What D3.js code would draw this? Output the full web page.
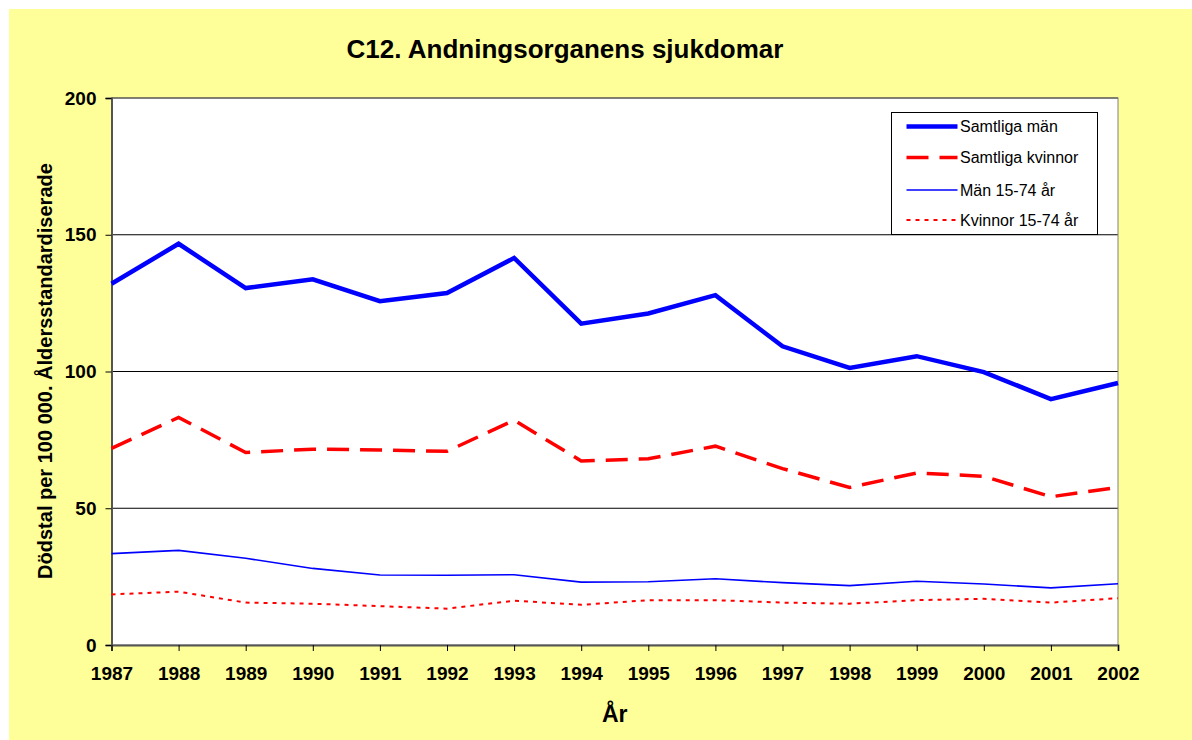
<!DOCTYPE html>
<html>
<head>
<meta charset="utf-8">
<script src="https://cdn.jsdelivr.net/npm/d3@7"></script>
<style>
  body { margin: 0; background: #fff; }
  text { font-family: "Liberation Sans", Arial, sans-serif; }
</style>
</head>
<body>
<script>
// data
var years = [1987, 1988, 1989, 1990, 1991, 1992, 1993, 1994, 1995, 1996, 1997, 1998, 1999, 2000, 2001, 2002];
var samtligaMan = [132.1, 146.7, 130.5, 133.7, 125.7, 128.7, 141.5, 117.5, 121.2, 127.9, 109.2, 101.3, 105.6, 99.8, 89.9, 95.8];
var samtligaKvinnor = [71.9, 83.2, 70.4, 71.6, 71.3, 70.8, 82.2, 67.3, 68.1, 72.7, 64.5, 57.6, 62.9, 61.7, 54.2, 57.6];
var man1574 = [33.4, 34.6, 31.7, 28.0, 25.6, 25.5, 25.7, 23.0, 23.1, 24.2, 22.8, 21.7, 23.3, 22.3, 20.9, 22.4];
var kvinnor1574 = [18.5, 19.5, 15.5, 15.1, 14.2, 13.3, 16.2, 14.7, 16.4, 16.4, 15.5, 15.1, 16.4, 16.9, 15.5, 17.1];
var yTicks = [0, 50, 100, 150, 200];

var series = [
  {name: "Samtliga män", values: samtligaMan, color: "#0000ff", width: 4.5, dash: null},
  {name: "Samtliga kvinnor", values: samtligaKvinnor, color: "#ff0000", width: 3.5, dash: "22,11"},
  {name: "Män 15-74 år", values: man1574, color: "#0000ff", width: 1.6, dash: null},
  {name: "Kvinnor 15-74 år", values: kvinnor1574, color: "#ff0000", width: 2, dash: "4,5"}
];

// define margins
var margin = {top: 98, right: 74, bottom: 95, left: 111.5};
var W = 1192, H = 740;
var width = 1118 - margin.left,
    height = 645 - margin.top;

var root = d3.select("body").append("svg")
    .attr("width", W)
    .attr("height", H);

// yellow chart area
root.append("rect")
    .attr("x", 9).attr("y", 9)
    .attr("width", W - 9).attr("height", H - 9)
    .attr("fill", "#ffff99");

root.append("text")
    .attr("x", 565)
    .attr("y", 58)
    .attr("text-anchor", "middle")
    .style("font-size", "26px")
    .style("font-weight", "bold")
    .text("C12. Andningsorganens sjukdomar");

var svg = root.append("g")
    .attr("transform", "translate(" + margin.left + "," + margin.top + ")");

var x = d3.scaleLinear().domain([years[0], years[years.length - 1]]).range([0, width]);
var y = d3.scaleLinear().domain([0, 200]).range([height, 0]);

// plot area
svg.append("rect")
    .attr("width", width)
    .attr("height", height)
    .attr("fill", "#ffffff");

// gridlines
svg.selectAll(".grid")
    .data(yTicks.filter(function(d) { return d > 0; }))
    .enter().append("line")
    .attr("x1", 0).attr("x2", width)
    .attr("y1", function(d) { return y(d); })
    .attr("y2", function(d) { return y(d); })
    .attr("stroke", "#000")
    .attr("stroke-width", 1);

// border of plot area
svg.append("rect")
    .attr("width", width)
    .attr("height", height)
    .attr("fill", "none")
    .attr("stroke", "#808080")
    .attr("stroke-width", 1);

// y axis
var yAxis = svg.append("g")
    .call(d3.axisLeft(y).tickValues(yTicks).tickSize(6).tickPadding(9).tickFormat(d3.format("d")));
yAxis.select(".domain").attr("stroke", "#555").attr("stroke-width", 2);
yAxis.selectAll(".tick line").attr("stroke", "#000");
yAxis.selectAll("text")
    .style("font-size", "19px")
    .style("font-weight", "bold")
    .style("font-family", "Liberation Sans, Arial, sans-serif")
    .attr("fill", "#000");

// x axis
var xAxis = svg.append("g")
    .attr("transform", "translate(0," + height + ")")
    .call(d3.axisBottom(x).tickValues(years).tickSize(6).tickPadding(16).tickFormat(d3.format("d")));
xAxis.select(".domain").attr("stroke", "#555").attr("stroke-width", 2);
xAxis.selectAll(".tick line").attr("stroke", "#000");
xAxis.selectAll("text")
    .style("font-size", "19px")
    .style("font-weight", "bold")
    .style("font-family", "Liberation Sans, Arial, sans-serif")
    .attr("fill", "#000");

// axis titles
svg.append("text")
    .attr("x", width / 2)
    .attr("y", height + 77)
    .attr("text-anchor", "middle")
    .style("font-size", "23px")
    .style("font-weight", "bold")
    .text("År");

svg.append("text")
    .attr("transform", "rotate(-90)")
    .attr("x", -(371 - margin.top))
    .attr("y", 52 - margin.left)
    .attr("text-anchor", "middle")
    .style("font-size", "20px")
    .style("font-weight", "bold")
    .text("Dödstal per 100 000. Åldersstandardiserade");

// the lines
var line = d3.line()
    .x(function(d, i) { return x(years[i]); })
    .y(function(d) { return y(d); });

svg.selectAll(".series")
    .data(series.slice().reverse())
    .enter().append("path")
    .attr("d", function(s) { return line(s.values); })
    .attr("fill", "none")
    .attr("stroke", function(s) { return s.color; })
    .attr("stroke-width", function(s) { return s.width; })
    .attr("stroke-dasharray", function(s) { return s.dash; })
    .attr("stroke-linejoin", "miter");

// legend
var legend = root.append("g").attr("transform", "translate(891.5,112.5)");
legend.append("rect")
    .attr("width", 206).attr("height", 122)
    .attr("fill", "#fff")
    .attr("stroke", "#000")
    .attr("stroke-width", 1);

var rowY = [14, 45, 77.5, 107.5];
var item = legend.selectAll(".item")
    .data(series)
    .enter().append("g")
    .attr("transform", function(d, i) { return "translate(0," + rowY[i] + ")"; });

item.append("line")
    .attr("x1", 15).attr("x2", 66)
    .attr("stroke", function(s) { return s.color; })
    .attr("stroke-width", function(s) { return s.width; })
    .attr("stroke-dasharray", function(s) { return s.dash; });

item.append("text")
    .attr("x", 68.5)
    .attr("dy", "0.35em")
    .style("font-size", "16px")
    .text(function(s) { return s.name; });
</script>
</body>
</html>
